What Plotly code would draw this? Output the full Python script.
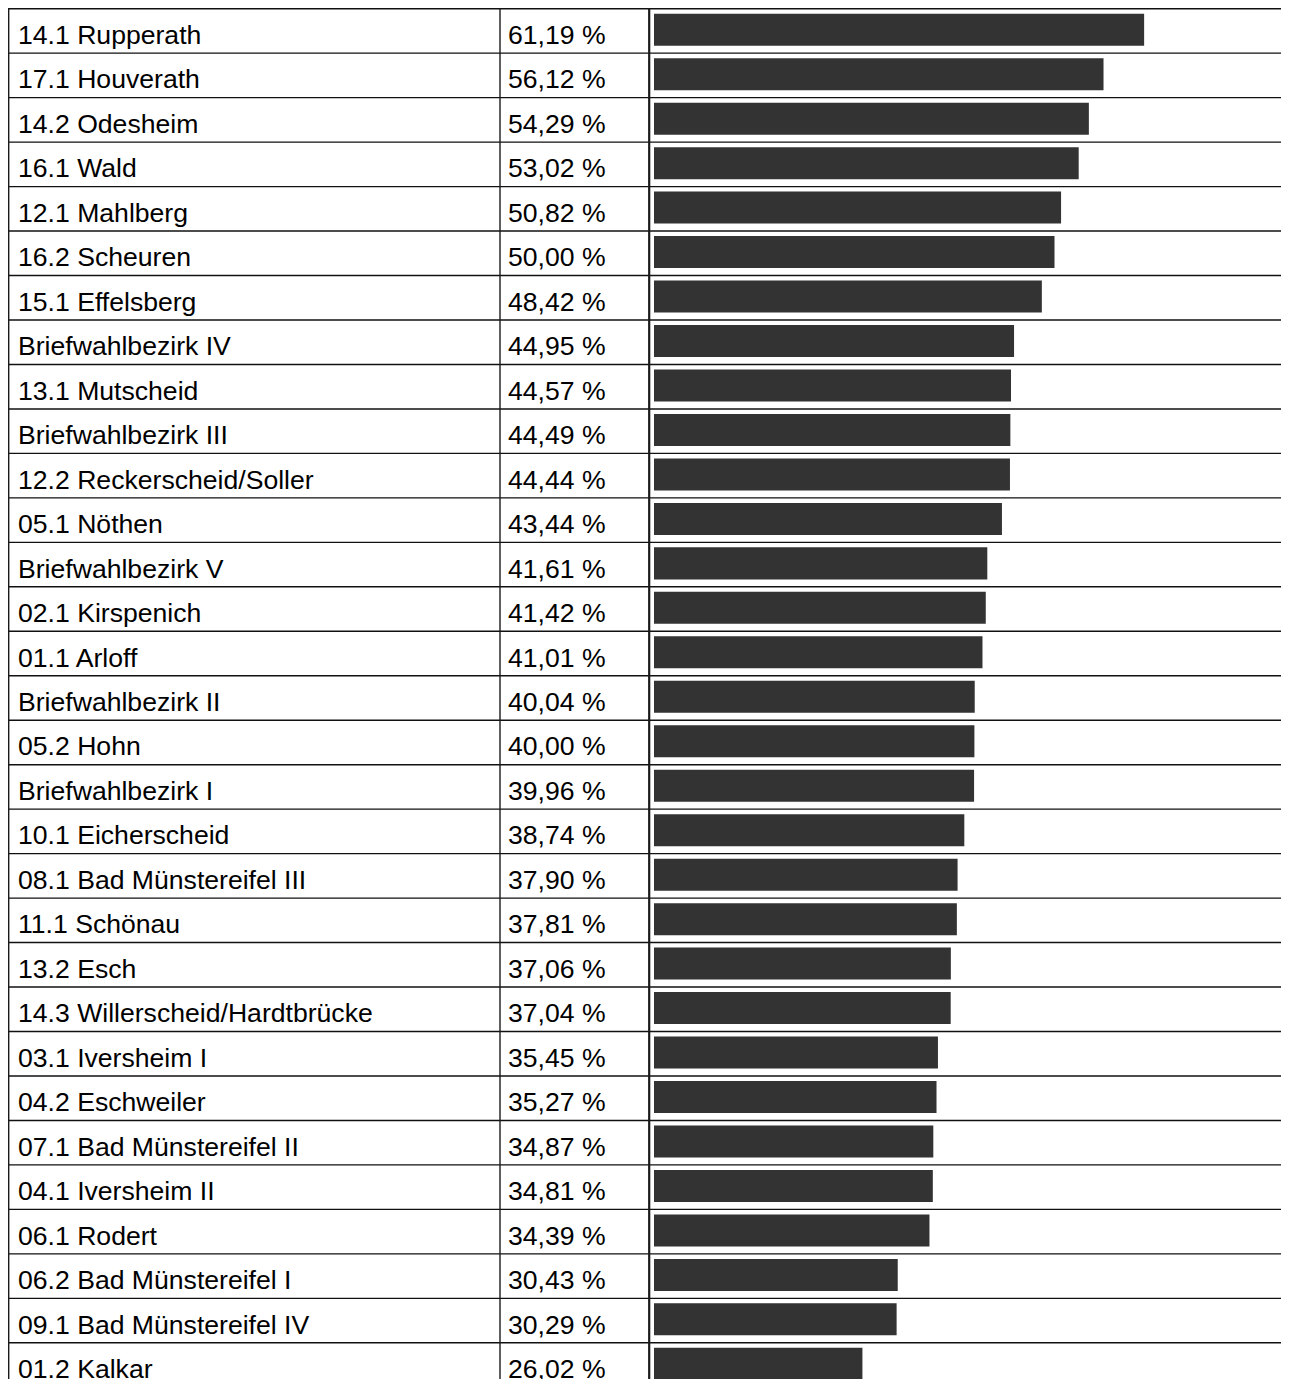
import plotly.graph_objects as go

# Wahlbezirke and their share (%)
bezirke = [
    "14.1 Rupperath", "17.1 Houverath", "14.2 Odesheim", "16.1 Wald",
    "12.1 Mahlberg", "16.2 Scheuren", "15.1 Effelsberg", "Briefwahlbezirk IV",
    "13.1 Mutscheid", "Briefwahlbezirk III", "12.2 Reckerscheid/Soller",
    "05.1 Nöthen", "Briefwahlbezirk V", "02.1 Kirspenich", "01.1 Arloff",
    "Briefwahlbezirk II", "05.2 Hohn", "Briefwahlbezirk I", "10.1 Eicherscheid",
    "08.1 Bad Münstereifel III", "11.1 Schönau", "13.2 Esch",
    "14.3 Willerscheid/Hardtbrücke", "03.1 Iversheim I", "04.2 Eschweiler",
    "07.1 Bad Münstereifel II", "04.1 Iversheim II", "06.1 Rodert",
    "06.2 Bad Münstereifel I", "09.1 Bad Münstereifel IV", "01.2 Kalkar",
]
anteile = [
    61.19, 56.12, 54.29, 53.02, 50.82, 50.00, 48.42, 44.95, 44.57, 44.49,
    44.44, 43.44, 41.61, 41.42, 41.01, 40.04, 40.00, 39.96, 38.74, 37.90,
    37.81, 37.06, 37.04, 35.45, 35.27, 34.87, 34.81, 34.39, 30.43, 30.29,
    26.02,
]
labels = [f"{v:.2f}".replace(".", ",") + " %" for v in anteile]

# the page body adds an 8px margin, so the figure is made smaller
W, H = 1281, 1371
row_h = 44.47     # pixel height of one table row
top = 0.0         # pixel of the top border inside the figure
px_per_pct = 8.01
bar_x0 = 646      # pixel where bar value 0 sits

rows = list(range(len(bezirke)))
font = dict(family="Liberation Sans, Arial, sans-serif", size=26.6, color="black")

fig = go.Figure()
fig.add_trace(go.Bar(
    x=anteile, y=rows, orientation="h",
    width=0.72, offset=-0.387,
    marker=dict(color="#333333", line=dict(width=0)),
    hoverinfo="skip",
))

annotations = []
for i, (name, lab) in enumerate(zip(bezirke, labels)):
    annotations.append(dict(x=8 / W, xref="paper", y=i, yref="y", text=name,
                            xanchor="left", yanchor="middle", yshift=-4,
                            showarrow=False, font=font))
    annotations.append(dict(x=498 / W, xref="paper", y=i, yref="y", text=lab,
                            xanchor="left", yanchor="middle", yshift=-4,
                            showarrow=False, font=font))

line = dict(color="#111111", width=1.4)
shapes = []
for i in range(len(bezirke) + 1):
    shapes.append(dict(type="line", xref="paper", x0=0, x1=1,
                       yref="y", y0=i - 0.5, y1=i - 0.5, line=line))
for xp, lw in ((0.7, 1.4), (492, 1.4), (641.2, 2.2)):
    shapes.append(dict(type="line", xref="paper", x0=xp / W, x1=xp / W,
                       yref="paper", y0=0, y1=1,
                       line=dict(color="#1a1a1a", width=lw)))

y_top = -0.5 - (top + 0.7) / row_h
y_bot = y_top + H / row_h
x_left = -bar_x0 / px_per_pct
x_right = x_left + W / px_per_pct

fig.update_layout(
    width=W, height=H,
    margin=dict(l=0, r=0, t=0, b=0),
    paper_bgcolor="white", plot_bgcolor="white",
    showlegend=False,
    xaxis=dict(range=[x_left, x_right], visible=False, fixedrange=True),
    yaxis=dict(range=[y_bot, y_top], visible=False, fixedrange=True),
    annotations=annotations,
    shapes=shapes,
)

fig.write_html("out.html", config=dict(displayModeBar=False))
